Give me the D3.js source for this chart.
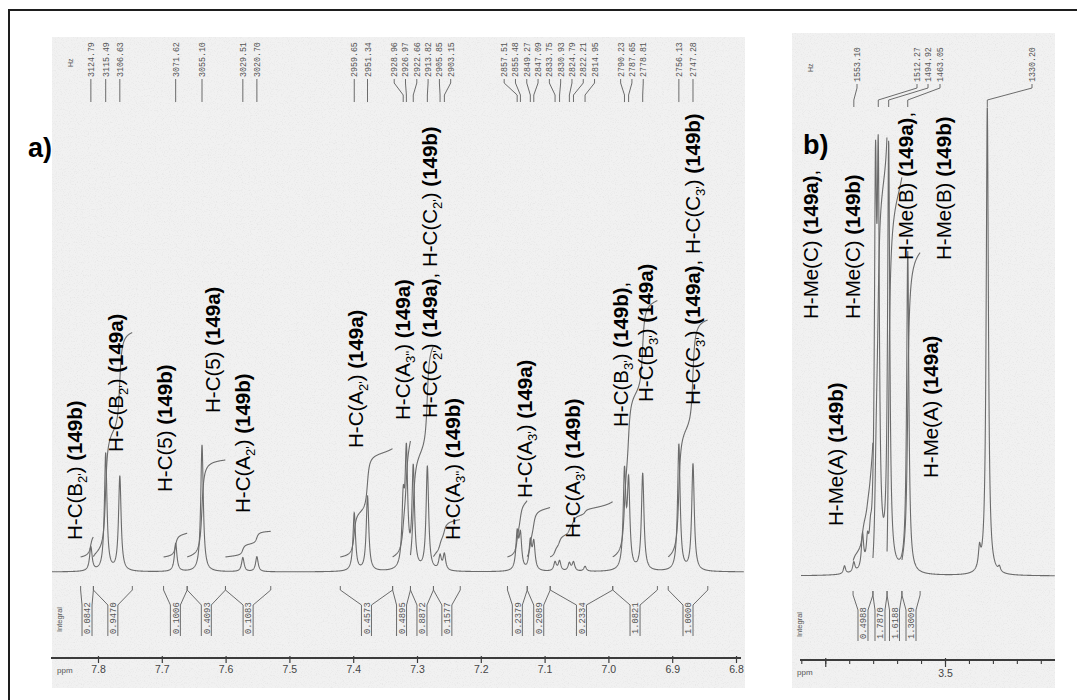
<!DOCTYPE html>
<html>
<head>
<meta charset="utf-8">
<script src="https://cdn.jsdelivr.net/npm/d3@7"></script>
<style>
  body { margin: 0; background: #fff; }
  svg { display: block; font-family: "Liberation Sans", Arial, sans-serif; }
</style>
</head>
<body>
<svg id="chart" width="1077" height="700"></svg>
<script>
// ---------------- data ----------------
const MHZ = 400;

// a) aromatic region: peak positions (Hz) and intensities
const aPeakHz = [3124.79, 3115.49, 3106.63, 3071.62, 3055.10, 3029.51, 3020.70,
  2959.65, 2951.34, 2928.96, 2926.97, 2922.66, 2913.82, 2905.85, 2903.15,
  2857.51, 2855.48, 2849.27, 2847.09, 2833.75, 2830.93, 2824.79, 2822.21, 2814.95,
  2790.23, 2787.65, 2778.81, 2756.13, 2747.28];
const aPeakHeight = [24, 118, 95, 28, 127, 14, 15,
  58, 75, 62, 112, 100, 104, 14, 16,
  36, 34, 28, 27, 9, 10, 8, 9, 5,
  95, 84, 97, 127, 107];

// a) integral regions (ppm) and values
const aIntFrom = [7.828, 7.808, 7.698, 7.661, 7.601, 7.421, 7.339, 7.311, 7.275, 7.159, 7.128, 7.092, 6.994, 6.907];
const aIntTo   = [7.808, 7.747, 7.661, 7.601, 7.530, 7.339, 7.311, 7.275, 7.233, 7.128, 7.092, 6.994, 6.924, 6.845];
const aIntVal  = [0.0842, 0.9470, 0.1006, 0.4093, 0.1083, 0.4573, 0.4895, 0.8872, 0.1577, 0.2379, 0.2089, 0.2334, 1.0821, 1.0000];

const aTicks = [7.8, 7.7, 7.6, 7.5, 7.4, 7.3, 7.2, 7.1, 7.0, 6.9, 6.8];

// b) methyl region: all peaks (Hz) with intensities, and the picked ones
const bPeakHz = [1568.7, 1553.10, 1538.6, 1530.3, 1525.3, 1516.9, 1512.27, 1494.92, 1463.05, 1343.2, 1330.20, 1310.0];
const bPeakHeight = [8, 10, 34, 22, 20, 360, 365, 425, 322, 20, 470, 5];
const bLabelHz = [1553.10, 1512.27, 1494.92, 1463.05, 1330.20];

const bIntFrom = [3.886, 3.803, 3.744, 3.682];
const bIntTo   = [3.803, 3.744, 3.682, 3.606];
const bIntVal  = [0.4988, 1.7870, 1.6188, 1.3009];

const bMinorTicks = d3.range(41, 30, -1).map(v => v / 10);
const bMajorTicks = [4.0, 3.5];
const bTickLabels = ["", "3.5"];

// signal assignments (text markup: _{..} subscript, **..** bold)
const aAssign = [
  "H-C(B_{2'}) **(149b)**",
  "H-C(B_{2'}) **(149a)**",
  "H-C(5) **(149b)**",
  "H-C(5) **(149a)**",
  "H-C(A_{2'}) **(149b)**",
  "H-C(A_{2'}) **(149a)**",
  "H-C(A_{3''}) **(149a)**",
  "H-C(C_{2'}) **(149a)**, H-C(C_{2'}) **(149b)**",
  "H-C(A_{3''}) **(149b)**",
  "H-C(A_{3'}) **(149a)**",
  "H-C(A_{3'}) **(149b)**",
  "H-C(B_{3'}) **(149b)**,",
  "H-C(B_{3'}) **(149a)**",
  "H-C(C_{3'}) **(149a)**, H-C(C_{3'}) **(149b)**"
];
const bAssign = [
  "H-Me(C) **(149a)**,",
  "H-Me(C) **(149b)**",
  "H-Me(B) **(149a)**,",
  "H-Me(B) **(149b)**",
  "H-Me(A) **(149b)**",
  "H-Me(A) **(149a)**"
];

// ---------------- layout ----------------
// assignment text anchors: [baseline x, start y] (text runs upward)
const aAssignPos = [[82,540],[123,452],[172,492],[220,413],[250,513],[363,448],[410,420],
                    [437,418],[460,540],[532,498],[580,538],[628,427],[653,402],[700,405]];
const bAssignPos = [[818,319],[860,319],[913,260],[951,260],[843,526],[938,478]];
const bLabelX = [857, 917, 928, 940, 1032];

const PA = { bg: [52, 37, 693, 651], span: [52, 744], dom: [7.8, 6.8], rng: [98.5, 736.5],
             baseline: 572, axisY: 658, axis: [51, 741], intTop: 586, hzBottom: 77, hzLeadEnd: 102,
             gamma: 0.0024 };
const PB = { bg: [792, 33, 263, 655], span: [801, 1055], dom: [3.5, 3.0], rng: [945.5, 1065.25],
             baseline: 576, axisY: 660, axis: [800, 1055], intTop: 591, hzBottom: 82, hzLeadEnd: 107,
             gamma: 0.0055 };

const INT_PX = 237;          // pixel rise for one integral unit
const INT_LIFT = 15;         // integral trace offset above the baseline
const LINE = "#6b6b6b";
const GRAY_TXT = "#555";

const svg = d3.select("#chart");

// paper grain for the scanned spectra
const defs = svg.append("defs");
const grain = defs.append("filter").attr("id", "grain").attr("x", 0).attr("y", 0).attr("width", 1).attr("height", 1);
grain.append("feTurbulence").attr("type", "fractalNoise").attr("baseFrequency", 0.85)
  .attr("numOctaves", 2).attr("seed", 7).attr("result", "n");
grain.append("feColorMatrix").attr("in", "n").attr("type", "matrix")
  .attr("values", "0 0 0 0 0.55  0 0 0 0 0.55  0 0 0 0 0.55  1.9 0 0 0 -0.95");

// frame
svg.append("rect").attr("x", 9).attr("y", 10).attr("width", 1090).attr("height", 720)
  .attr("fill", "none").attr("stroke", "#1e1e1e").attr("stroke-width", 2);

function richText(sel, str) {
  const parts = str.split(/(_\{[^}]*\}|\*\*[^*]+\*\*)/).filter(s => s.length);
  let lowered = false;
  parts.forEach(p => {
    if (p.startsWith("_{")) {
      sel.append("tspan").attr("font-size", 13).attr("dy", lowered ? 0 : 5).text(p.slice(2, -1));
      lowered = true;
    } else {
      const t = sel.append("tspan");
      if (lowered) { t.attr("dy", -5); lowered = false; }
      if (p.startsWith("**")) t.attr("font-weight", "bold").text(p.slice(2, -2));
      else t.text(p);
    }
  });
}

// spread labels so they keep a minimum gap, keeping each cluster centred
function spread(xs, gap) {
  let clusters = xs.map(x => ({ items: [x], c: x }));
  let changed = true;
  const pos = c => c.items.map((_, i) => c.c + (i - (c.items.length - 1) / 2) * gap);
  while (changed) {
    changed = false;
    for (let i = 0; i < clusters.length - 1; i++) {
      const a = clusters[i], b = clusters[i + 1];
      const aEnd = pos(a)[a.items.length - 1], bStart = pos(b)[0];
      if (bStart - aEnd < gap) {
        const items = a.items.concat(b.items);
        clusters.splice(i, 2, { items, c: d3.mean(items) });
        changed = true; break;
      }
    }
  }
  return clusters.flatMap(pos);
}

function drawPanel(P, cfg) {
  const g = svg.append("g");
  const [bx, by, bw, bh] = P.bg;
  g.append("rect").attr("x", bx).attr("y", by).attr("width", bw).attr("height", bh).attr("fill", "#f1f1f1");
  g.append("rect").attr("x", bx).attr("y", by).attr("width", bw).attr("height", bh)
    .attr("filter", "url(#grain)").attr("opacity", 0.35);

  const x = d3.scaleLinear().domain(P.dom).range(P.rng);
  const y = d3.scaleLinear().domain([0, 500]).range([P.baseline, P.baseline - 500]);
  const peaks = cfg.hz.map((h, i) => ({ ppm: h / MHZ, h: cfg.height[i] }));
  const spec = ppm => peaks.reduce((s, p) => { const d = (ppm - p.ppm) / P.gamma; return s + p.h / (1 + d * d); }, 0);

  // spectrum trace
  const pts = d3.range(P.span[0], P.span[1], 0.2).map(px => { const ppm = x.invert(px); return { ppm, v: spec(ppm) }; });
  const line = d3.line().x(d => x(d.ppm)).y(d => y(d.v));
  g.append("path").attr("d", line(pts)).attr("fill", "none").attr("stroke", LINE).attr("stroke-width", 1.1);

  // integral traces and brackets
  const rise = d3.scaleLinear().domain([0, 1]).range([0, INT_PX]);
  cfg.intFrom.forEach((f, i) => {
    const t = cfg.intTo[i], val = cfg.intVal[i];
    const xs = d3.range(x(f), x(t), 0.2);
    let acc = 0;
    const cum = xs.map(px => { acc += spec(x.invert(px)); return acc; });
    const tot = acc || 1;
    const trace = xs.map((px, k) => [px, P.baseline - INT_LIFT - rise(val * cum[k] / tot)]);
    g.append("path").attr("d", d3.line()(trace)).attr("fill", "none").attr("stroke", LINE).attr("stroke-width", 1.1);

    const xL = x(f), xR = x(t), cx = (xL + xR) / 2, hw = 5, top = P.intTop;
    const br = `M${xL},${top}V${top + 4}L${cx - hw},${top + 19}V${top + 50}` +
               `M${xR},${top}V${top + 4}L${cx + hw},${top + 19}V${top + 50}`;
    g.append("path").attr("d", br).attr("fill", "none").attr("stroke", LINE).attr("stroke-width", 1);
    g.append("text").attr("transform", `translate(${cx + 3.2},${top + 48}) rotate(-90)`)
      .attr("font-family", "'Liberation Mono', monospace").attr("font-size", 8.8)
      .attr("fill", GRAY_TXT).text(val.toFixed(4));
  });

  // picked-peak Hz labels with leaders
  const lab = cfg.labelHz.map(h => ({ h, px: x(h / MHZ) }));
  const lx = cfg.labelX || spread(lab.map(d => d.px), 11.3);
  lab.forEach((d, i) => {
    const top = P.hzBottom;
    g.append("path").attr("d", `M${lx[i]},${top + 2}V${top + 6}L${d.px},${P.hzLeadEnd - 7}V${P.hzLeadEnd}`)
      .attr("fill", "none").attr("stroke", LINE).attr("stroke-width", 1);
    g.append("text").attr("transform", `translate(${lx[i] + 3},${top}) rotate(-90)`)
      .attr("font-family", "'Liberation Mono', monospace").attr("font-size", 8.3)
      .attr("fill", GRAY_TXT).text(d.h.toFixed(2));
  });
  g.append("text").attr("transform", `translate(${bx + 21},${P.hzBottom - 10}) rotate(-90)`)
    .attr("font-size", 7).attr("fill", GRAY_TXT).text("Hz");

  // axis
  g.append("line").attr("x1", P.axis[0]).attr("x2", P.axis[1]).attr("y1", P.axisY).attr("y2", P.axisY)
    .attr("stroke", "#3c3c3c").attr("stroke-width", 1.8);
  cfg.ticks(g, x);
  g.append("text").attr("x", bx + 5).attr("y", P.axisY + 15).attr("font-size", 8).attr("fill", GRAY_TXT).text("ppm");
  g.append("text").attr("transform", `translate(${bx + 10},${P.intTop + 46}) rotate(-90)`)
    .attr("font-size", 7.5).attr("fill", GRAY_TXT).text("Integral");

  // assignments
  cfg.assign.forEach((s, i) => {
    const [ax, ay] = cfg.assignPos[i];
    const t = g.append("text").attr("transform", `translate(${ax},${ay}) rotate(-90)`)
      .attr("font-size", 20.5).attr("fill", "#000");
    richText(t, s);
  });
}

drawPanel(PA, {
  hz: aPeakHz, height: aPeakHeight, intFrom: aIntFrom, intTo: aIntTo, intVal: aIntVal,
  labelHz: aPeakHz, assign: aAssign, assignPos: aAssignPos,
  ticks: (g, x) => {
    aTicks.forEach(t => {
      g.append("line").attr("x1", x(t)).attr("x2", x(t)).attr("y1", PA.axisY - 2).attr("y2", PA.axisY + 5)
        .attr("stroke", "#3c3c3c").attr("stroke-width", 1.2);
      g.append("text").attr("x", x(t)).attr("y", PA.axisY + 15).attr("text-anchor", "middle")
        .attr("font-size", 10.5).attr("fill", "#444").text(d3.format(".1f")(t));
    });
  }
});

drawPanel(PB, {
  hz: bPeakHz, height: bPeakHeight, intFrom: bIntFrom, intTo: bIntTo, intVal: bIntVal,
  labelHz: bLabelHz, labelX: bLabelX, assign: bAssign, assignPos: bAssignPos,
  ticks: (g, x) => {
    bMinorTicks.forEach(t => {
      g.append("line").attr("x1", x(t)).attr("x2", x(t)).attr("y1", PB.axisY).attr("y2", PB.axisY + 4)
        .attr("stroke", "#3c3c3c").attr("stroke-width", 1.1);
    });
    bMajorTicks.forEach((t, i) => {
      g.append("line").attr("x1", x(t)).attr("x2", x(t)).attr("y1", PB.axisY - 2).attr("y2", PB.axisY + 7)
        .attr("stroke", "#3c3c3c").attr("stroke-width", 1.2);
      g.append("text").attr("x", x(t)).attr("y", PB.axisY + 17).attr("text-anchor", "middle")
        .attr("font-size", 10.5).attr("fill", "#444").text(bTickLabels[i]);
    });
  }
});

// panel letters
svg.append("text").attr("x", 28).attr("y", 157).attr("font-size", 27).attr("font-weight", "bold").text("a)");
svg.append("text").attr("x", 803).attr("y", 154).attr("font-size", 27).attr("font-weight", "bold").text("b)");
</script>
</body>
</html>
